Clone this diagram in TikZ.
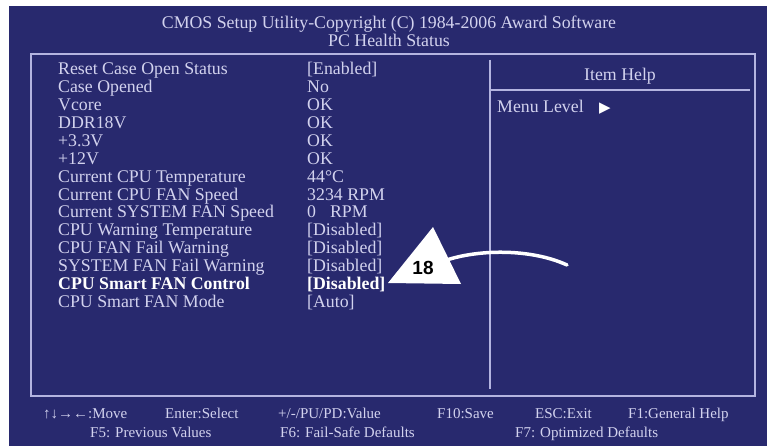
\documentclass[tikz,border=0pt]{standalone}
\usepackage{fontspec}
\setmainfont{Liberation Serif}
\newfontfamily\symfont{DejaVu Sans}
\newfontfamily\numfont{Liberation Sans}
\definecolor{biosbg}{HTML}{28296E}
\definecolor{biostext}{HTML}{D2D2EE}
\definecolor{biosline}{HTML}{B4B4E0}
\begin{document}
\begin{tikzpicture}[x=1pt,y=-1pt,
  txt/.style={anchor=base west,inner sep=0pt,text=biostext,font=\fontsize{17.8}{20}\selectfont},
  boldtxt/.style={anchor=base west,inner sep=0pt,text=white,font=\fontsize{17.8}{20}\selectfont\bfseries},
  ctxt/.style={anchor=base,inner sep=0pt,text=biostext,font=\fontsize{17.8}{20}\selectfont},
  foot/.style={anchor=base west,inner sep=0pt,text=biostext,font=\fontsize{15}{17}\selectfont},
  frameline/.style={draw=biosline,line width=1.8pt},
  divline/.style={draw=biosline,line width=1.3pt},
  callout/.style={fill=white,draw=none},
  calloutline/.style={draw=white,line width=3.5pt,line cap=round}]
\useasboundingbox (0,0) rectangle (767,446);
\fill[white] (0,0) rectangle (767,446);
\fill[biosbg] (9,6) rectangle (767,446);
% title
\node[ctxt] (title) at (389,29) {CMOS Setup Utility-Copyright (C) 1984-2006 Award Software};
\node[ctxt] (subtitle) at (389,47) {PC Health Status};
% frame
\draw[frameline] (31,54) rectangle (755,396);
\coordinate (divtop) at (490,60);
\coordinate (divbot) at (490,389);
\draw[divline] (divtop) -- (divbot);
\coordinate (hl) at (490,90);
\coordinate (hr) at (750,90);
\draw[divline] (hl) -- (hr);
% help
\node[ctxt] (itemhelp) at (620,81) {Item Help};
\node[txt] (menulevel) at (497,113) {Menu Level};
\node[anchor=base west,inner sep=0pt,text=white,font=\fontsize{15}{17}\selectfont\symfont] (menuarrow) at (599,113) {▶};
% list
\foreach \lab/\val [count=\i from 0] in {
  Reset Case Open Status/{[Enabled]},
  Case Opened/No,
  Vcore/OK,
  DDR18V/OK,
  +3.3V/OK,
  +12V/OK,
  Current CPU Temperature/44°C,
  Current CPU FAN Speed/3234 RPM,
  Current SYSTEM FAN Speed/{0\hspace{14pt}RPM},
  CPU Warning Temperature/{[Disabled]},
  CPU FAN Fail Warning/{[Disabled]},
  SYSTEM FAN Fail Warning/{[Disabled]}}{
  \node[txt] (lab\i) at (58,75+17.87*\i) {\lab};
  \node[txt] (val\i) at (307,75+17.87*\i) {\val};
}
\node[boldtxt] (lab12) at (58,289.4) {CPU Smart FAN Control};
\node[boldtxt] (val12) at (307,289.4) {[Disabled]};
\node[txt] (lab13) at (58,307.3) {CPU Smart FAN Mode};
\node[txt] (val13) at (307,307.3) {[Auto]};
% footer
\node[foot] (f1) at (43,418) {↑↓→←:Move};
\node[foot] (f2) at (165,418) {Enter:Select};
\node[foot] (f3) at (278,418) {+/-/PU/PD:Value};
\node[foot] (f4) at (437,418) {F10:Save};
\node[foot] (f5) at (535,418) {ESC:Exit};
\node[foot] (f6) at (628,418) {F1:General Help};
\node[foot] (g1) at (90,437) {F5: Previous Values};
\node[foot] (g2) at (280,437) {F6: Fail-Safe Defaults};
\node[foot] (g3) at (515,437) {F7: Optimized Defaults};
% callout
\fill[callout] (433,227) -- (388,283) -- (461,284) -- cycle;
\coordinate (cstart) at (441,262);
\coordinate (cend) at (567,265);
\draw[calloutline] (cstart) .. controls (475,249) and (530,248) .. (cend);
\node[inner sep=0pt,text=black,font=\fontsize{19}{21}\selectfont\numfont\bfseries] (num) at (423,268) {18};
\end{tikzpicture}
\end{document}
